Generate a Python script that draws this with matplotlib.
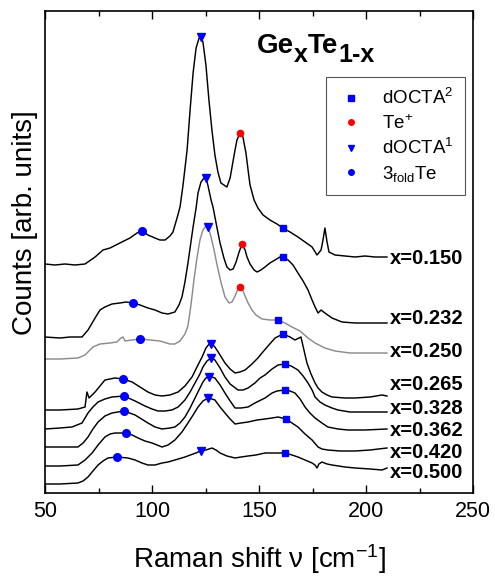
import numpy as np
import matplotlib
matplotlib.use("Agg")
import matplotlib.pyplot as plt
from matplotlib.lines import Line2D

plt.rcParams['font.family'] = ['Liberation Sans', 'DejaVu Sans']
plt.rcParams['mathtext.fontset'] = 'custom'
plt.rcParams['mathtext.rm'] = 'Liberation Sans'
plt.rcParams['mathtext.it'] = 'Liberation Sans:italic'
plt.rcParams['mathtext.bf'] = 'Liberation Sans:bold'

# Raman spectra (shift in cm^-1, counts in arb. units incl. vertical offset)
shift_150 = [50.0, 54.7, 59.3, 64.0, 68.7, 73.4, 77.1, 80.4, 85.0, 89.7, 93.0, 95.3, 98.1, 101.4, 103.7,
             106.1, 108.4, 109.8, 111.7, 113.1, 114.5, 116.4, 117.8, 119.2, 120.6, 122.0, 122.9, 123.8,
             125.2, 126.6, 128.0, 129.4, 130.8, 132.2, 133.6, 135.0, 136.5, 137.4, 138.8, 139.7, 141.1,
             142.5, 143.9, 144.9, 145.8, 147.7, 149.5, 151.9, 155.1, 158.4, 161.2, 164.5, 168.2, 171.5,
             174.8, 177.1, 179.0, 179.9, 180.8, 181.8, 182.7, 185.5, 190.2, 194.9, 199.5, 204.2, 209.8]
counts_150 = [229, 228, 229, 228, 229, 236, 243, 245, 250, 255, 260, 262, 258, 255, 253,
              253, 257, 261, 275, 286, 308, 343, 383, 420, 445, 455, 456, 451,
              428, 393, 363, 338, 321, 310, 308, 306, 315, 326, 343, 353, 360,
              356, 340, 323, 308, 293, 285, 278, 273, 269, 265, 261, 256, 251,
              246, 238, 243, 253, 265, 251, 241, 238, 237, 236, 237, 236, 236]

shift_232 = [50.0, 57.0, 61.7, 67.3, 70.1, 73.4, 75.7, 78.0, 81.3, 85.0, 87.9, 91.1, 94.4, 98.1, 101.4,
             104.7, 107.5, 110.7, 112.6, 114.0, 115.4, 116.8, 118.2, 119.2, 120.6, 121.5, 122.9, 124.3,
             125.2, 126.2, 127.6, 128.5, 130.4, 131.8, 133.6, 135.0, 136.5, 137.9, 139.3, 140.7, 142.1,
             143.5, 144.4, 145.8, 147.7, 149.1, 150.9, 152.8, 155.1, 157.5, 159.8, 161.2, 163.6, 165.9,
             168.2, 170.6, 172.9, 174.8, 176.2, 177.6, 179.0, 180.8, 184.1, 188.8, 194.9, 201.9, 209.8]
counts_232 = [156, 155, 156, 156, 163, 175, 183, 186, 189, 190, 191, 190, 188, 185, 183,
              180, 179, 181, 188, 196, 211, 230, 251, 266, 285, 300, 311, 315,
              315, 307, 293, 286, 265, 250, 235, 226, 223, 224, 231, 241, 249,
              243, 236, 229, 223, 221, 223, 226, 230, 233, 236, 236, 233, 228,
              220, 212, 203, 193, 186, 180, 183, 180, 175, 171, 170, 170, 170]

shift_250 = [50.0, 57.0, 65.4, 68.7, 72.4, 75.7, 80.4, 83.6, 85.5, 86.4, 87.4, 90.7, 94.4, 99.1, 103.7,
             108.4, 110.7, 113.1, 115.4, 116.8, 118.2, 119.6, 121.0, 122.4, 123.8, 125.2, 126.2, 127.6,
             129.0, 130.4, 132.2, 134.1, 136.0, 137.4, 138.8, 140.2, 141.1, 142.1, 143.5, 144.9, 146.7,
             148.6, 151.4, 155.1, 158.9, 162.1, 165.4, 169.2, 172.9, 176.2, 180.8, 185.5, 192.5, 199.5, 209.8]
counts_250 = [134, 134, 135, 138, 146, 149, 150, 151, 155, 156, 152, 153, 154, 153, 152,
              149, 149, 152, 159, 167, 188, 213, 235, 253, 263, 267, 266, 256,
              243, 228, 211, 196, 190, 191, 197, 204, 206, 204, 197, 190, 183,
              178, 174, 173, 173, 170, 166, 162, 155, 150, 145, 142, 140, 140, 140]

shift_265 = [50.0, 57.0, 65.4, 68.7, 69.6, 70.6, 72.0, 73.4, 75.7, 78.0, 82.7, 86.4, 90.7, 94.4, 98.1,
             101.4, 104.7, 108.4, 112.2, 115.4, 118.7, 121.0, 123.4, 125.2, 127.1, 128.0, 129.4, 131.8,
             134.1, 136.5, 138.8, 141.1, 143.5, 146.7, 149.5, 151.4, 154.2, 157.5, 161.2, 164.5, 166.8,
             168.7, 169.6, 171.0, 172.4, 174.3, 176.2, 177.6, 179.4, 181.8, 184.1, 190.2, 194.9, 201.9,
             207.5, 209.8]
counts_265 = [83, 83, 84, 86, 101, 95, 98, 101, 107, 113, 115, 114, 111, 106, 101,
              98, 97, 98, 101, 107, 116, 126, 136, 145, 150, 149, 146, 138,
              130, 124, 120, 121, 123, 129, 135, 140, 147, 155, 159, 156, 153,
              155, 156, 143, 130, 119, 110, 105, 101, 98, 96, 95, 95, 96,
              98, 97]

shift_328 = [50.0, 57.0, 62.6, 67.3, 70.1, 72.4, 74.8, 78.0, 81.3, 86.9, 92.1, 96.7, 100.0, 102.8, 106.1,
             109.3, 112.2, 115.4, 117.8, 120.1, 122.4, 123.8, 125.7, 127.6, 129.4, 131.8, 134.1, 136.5,
             140.2, 142.5, 144.9, 148.1, 150.5, 152.8, 156.1, 158.9, 162.1, 165.0, 168.2, 170.6, 172.9,
             174.8, 176.2, 178.5, 180.8, 184.1, 186.9, 192.5, 199.5, 209.8]
counts_328 = [64, 65, 66, 70, 80, 86, 91, 94, 96, 97, 92, 87, 84, 82, 82,
              83, 86, 93, 101, 110, 119, 126, 132, 135, 133, 125, 116, 109,
              103, 103, 105, 110, 115, 118, 124, 128, 129, 127, 123, 117, 110,
              103, 96, 91, 88, 85, 83, 81, 81, 81]

shift_362 = [50.0, 57.0, 65.4, 67.8, 70.1, 72.4, 74.8, 78.0, 81.3, 86.9, 92.1, 98.1, 101.4, 104.7, 108.4,
             110.7, 113.1, 115.4, 117.8, 120.1, 122.4, 123.8, 125.2, 126.6, 128.0, 129.4, 131.8, 134.1,
             136.5, 138.8, 141.6, 144.9, 148.1, 152.8, 156.1, 158.4, 162.1, 164.5, 166.8, 169.2, 171.5,
             173.8, 176.2, 179.4, 182.2, 186.9, 191.6, 199.5, 209.8]
counts_362 = [46, 46, 46, 50, 56, 64, 71, 77, 80, 82, 78, 70, 66, 64, 65,
              66, 70, 76, 85, 95, 105, 111, 115, 116, 116, 115, 108, 100,
              92, 85, 85, 86, 90, 95, 100, 102, 103, 102, 100, 94, 86,
              80, 75, 70, 66, 64, 63, 63, 64]

shift_420 = [50.0, 57.0, 65.4, 68.7, 72.0, 74.8, 78.0, 80.4, 82.7, 87.9, 90.7, 93.5, 96.7, 100.0, 104.7,
             107.5, 110.7, 114.0, 116.8, 119.2, 121.5, 123.8, 126.2, 128.0, 129.4, 131.8, 134.1, 136.5,
             138.8, 141.6, 144.9, 149.1, 152.8, 156.1, 158.9, 162.6, 165.4, 168.2, 171.5, 174.8, 177.6,
             179.4, 182.2, 187.9, 194.9, 201.9, 209.8]
counts_420 = [27, 27, 28, 33, 40, 48, 56, 59, 60, 60, 58, 55, 52, 50, 46,
              48, 53, 61, 70, 78, 86, 92, 95, 94, 93, 86, 80, 74,
              69, 70, 71, 73, 74, 75, 76, 74, 70, 66, 59, 53, 46,
              44, 43, 42, 42, 43, 45]

shift_500 = [50.0, 57.0, 65.4, 67.8, 70.1, 72.4, 74.8, 77.1, 79.4, 83.6, 88.8, 92.1, 95.3, 98.1, 101.4,
             104.7, 107.5, 110.7, 115.4, 119.2, 122.9, 125.2, 128.0, 129.9, 131.8, 135.0, 138.8, 141.6,
             144.9, 148.6, 152.8, 157.5, 162.1, 165.4, 168.2, 171.5, 174.8, 176.2, 177.1, 178.0, 179.4,
             181.8, 184.1, 190.2, 194.9, 201.9, 207.5, 209.8]
counts_500 = [9, 9, 10, 12, 16, 22, 28, 32, 35, 36, 35, 33, 30, 28, 28,
              30, 31, 33, 36, 39, 42, 43, 45, 43, 40, 37, 35, 36,
              37, 38, 40, 40, 40, 38, 36, 33, 30, 28, 25, 29, 31,
              29, 28, 26, 25, 24, 23, 25]

compositions = ['x=0.150', 'x=0.232', 'x=0.250', 'x=0.265', 'x=0.328', 'x=0.362', 'x=0.420', 'x=0.500']
shifts = [shift_150, shift_232, shift_250, shift_265, shift_328, shift_362, shift_420, shift_500]
counts = [counts_150, counts_232, counts_250, counts_265, counts_328, counts_362, counts_420, counts_500]
line_colors = ['black', 'black', '#8c8c8c', 'black', 'black', 'black', 'black', 'black']
label_y = [229.5, 169.5, 136, 103, 79.5, 56.5, 34.5, 14.5]

# peak assignments: position (cm^-1) per spectrum, None = not marked
docta2_pos = [161.2, 161.2, 158.9, 161.2, 162.1, 162.1, 162.6, 162.1]
teplus_pos = [141.1, 142.1, 141.1, None, None, None, None, None]
docta1_pos = [122.9, 125.2, 126.0, 127.6, 127.6, 126.6, 126.2, 122.9]
te3fold_pos = [95.3, 91.1, 94.4, 86.4, 86.9, 86.9, 87.9, 83.6]

fig = plt.figure(figsize=(4.95, 5.82), dpi=100)
ax = fig.add_axes([45 / 495, 89 / 582, 428 / 495, 482 / 582])

for sx, cy, col in zip(shifts, counts, line_colors):
    ax.plot(sx, cy, color=col, lw=1.05, zorder=2)

peak_sets = [
    (docta2_pos, 's', 'blue', 4.5, r'dOCTA$^{\mathregular{2}}$'),
    (teplus_pos, 'o', 'red', 4.5, r'Te$^{\mathregular{+}}$'),
    (docta1_pos, 'v', 'blue', 5.5, r'dOCTA$^{\mathregular{1}}$'),
    (te3fold_pos, 'o', 'blue', 5.5, r'3$_{\mathregular{fold}}$Te'),
]
handles = []
for pos, mk, col, ms, lab in peak_sets:
    px, py = [], []
    for p, sx, cy in zip(pos, shifts, counts):
        if p is None:
            continue
        px.append(p)
        py.append(np.interp(p, sx, cy))
    ax.plot(px, py, ls='none', marker=mk, color=col, ms=ms, mec=col, zorder=3)
    handles.append(Line2D([], [], ls='none', marker=mk, color=col, ms=4, label=lab))

for lab, sx, yl in zip(compositions, shifts, label_y):
    ax.text(sx[-1] + 1.5, yl, lab, fontsize=14.5, fontweight='bold', ha='left', va='baseline')

# title  GexTe1-x
t1 = ax.text(0.495, 0.913, 'Ge', transform=ax.transAxes, fontsize=20, fontweight='bold', va='baseline')
t2 = ax.annotate('x', xy=(1, 0), xycoords=t1, xytext=(0, -5.5), textcoords='offset points',
                 fontsize=18, fontweight='bold', va='bottom', ha='left')
t3 = ax.annotate('Te', xy=(1, 0), xycoords=t2, xytext=(0, 5.5), textcoords='offset points',
                 fontsize=20, fontweight='bold', va='bottom', ha='left')
ax.annotate('1-x', xy=(1, 0), xycoords=t3, xytext=(0, -5.5), textcoords='offset points',
            fontsize=18, fontweight='bold', va='bottom', ha='left')

leg = ax.legend(handles=handles, loc='upper right', bbox_to_anchor=(0.981, 0.863), fontsize=13.5,
                frameon=True, fancybox=False, edgecolor='#555555', framealpha=1, borderaxespad=0,
                handlelength=1.5, handletextpad=0.9, labelspacing=0.3, borderpad=0.6)
leg.get_frame().set_linewidth(0.8)

ax.set_xlim(50, 250)
ax.set_ylim(0, 482)
ax.set_xticks([50, 100, 150, 200, 250])
ax.set_xticks([75, 125, 175, 225], minor=True)
ax.set_yticks([])
ax.tick_params(axis='x', which='both', direction='in', top=True, labelsize=15.5, pad=6, width=1.0)
ax.tick_params(axis='x', which='major', length=6)
ax.tick_params(axis='x', which='minor', length=3.5)
for sp in ax.spines.values():
    sp.set_linewidth(1.2)

ax.set_xlabel('Raman shift ν [cm$^{-1}$]', fontsize=20, labelpad=14)
ax.set_ylabel('Counts [arb. units]', fontsize=20)
ax.yaxis.set_label_coords(-0.016, 0.56)

fig.savefig('out.png', dpi=100)
